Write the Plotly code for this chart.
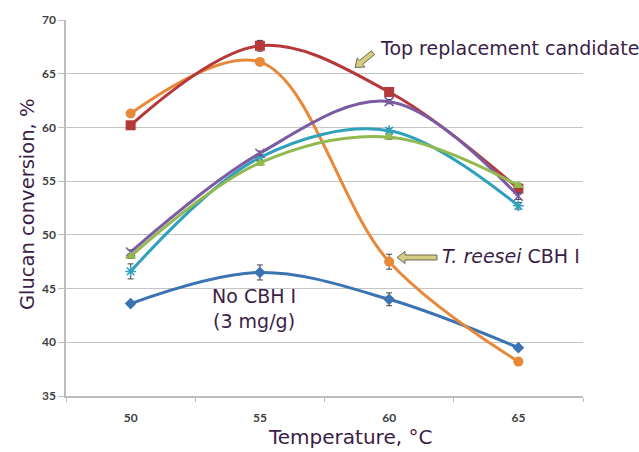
import plotly.graph_objects as go

# Glucan conversion (%) at each hydrolysis temperature
temps = ["50", "55", "60", "65"]
top_candidate = [60.2, 67.6, 63.3, 54.3]
t_reesei = [61.3, 66.1, 47.5, 38.2]
variant_purple = [48.4, 57.6, 62.4, 53.6]
variant_green = [48.0, 56.7, 59.1, 54.6]
variant_cyan = [46.6, 57.2, 59.7, 52.7]
no_cbh = [43.6, 46.5, 44.0, 39.5]

# standard deviations
err_top = [0.2, 0.5, 0.2, 0.2]
err_reesei = [0.2, 0.2, 0.7, 0.2]
err_purple = [0.2, 0.2, 0.2, 0.3]
err_green = [0.2, 0.2, 0.2, 0.2]
err_cyan = [0.7, 0.2, 0.2, 0.3]
err_none = [0.2, 0.7, 0.6, 0.2]

TEXT = "#3b1e47"
ERR = "#404040"

# plot-area geometry in pixels (used to place callouts)
W, H = 639, 452
L, R, T, B = 66, 56, 16, 56
PW, PH = W - L - R, H - T - B


def px(x, y):
    return (x - L) / PW, (H - B - y) / PH


def block_arrow(tail, tip, shaft=5.0, head_w=12.0, head_len=8.0):
    tx, ty = tail
    hx, hy = tip
    dx, dy = hx - tx, hy - ty
    d = (dx * dx + dy * dy) ** 0.5
    ux, uy = dx / d, dy / d
    nx, ny = -uy, ux
    neck = (hx - ux * head_len, hy - uy * head_len)
    pts = [
        (tx + nx * shaft / 2, ty + ny * shaft / 2),
        (neck[0] + nx * shaft / 2, neck[1] + ny * shaft / 2),
        (neck[0] + nx * head_w / 2, neck[1] + ny * head_w / 2),
        (hx, hy),
        (neck[0] - nx * head_w / 2, neck[1] - ny * head_w / 2),
        (neck[0] - nx * shaft / 2, neck[1] - ny * shaft / 2),
        (tx - nx * shaft / 2, ty - ny * shaft / 2),
    ]
    path = "M " + " L ".join("%.5f,%.5f" % px(*p) for p in pts) + " Z"
    return dict(type="path", xref="paper", yref="paper", path=path,
                fillcolor="#d4cb84", line=dict(color="#6e6a52", width=1))


series = [
    ("No CBH I", no_cbh, err_none, "#3b73b3", dict(symbol="diamond", size=9)),
    ("T. reesei CBH I", t_reesei, err_reesei, "#e8893a", dict(symbol="circle", size=10)),
    ("Top candidate", top_candidate, err_top, "#b5393a", dict(symbol="square", size=10)),
    ("Variant C", variant_cyan, err_cyan, "#2fa1bd",
     dict(symbol="asterisk-open", size=9, line=dict(width=1.5, color="#2fa1bd"))),
    ("Variant A", variant_purple, err_purple, "#7b5ba3",
     dict(symbol="x-thin-open", size=9, line=dict(width=1.5, color="#7b5ba3"))),
    ("Variant B", variant_green, err_green, "#93b94f", dict(symbol="triangle-up", size=10)),
]

fig = go.Figure()
for name, vals, err, color, marker in series:
    fig.add_trace(go.Scatter(
        x=temps, y=vals, name=name, mode="lines+markers",
        line=dict(color=color, width=3, shape="spline", smoothing=1.0),
        marker=dict(color=color, **marker),
        error_y=dict(type="data", array=err, visible=True, color=ERR,
                     thickness=1, width=3),
    ))

FONT = "DejaVu Sans"
annotations = []
tx, ty = px(378, 44)
annotations.append(dict(xref="paper", yref="paper", x=tx, y=ty, xanchor="left", yanchor="middle",
                        text="Top replacement candidate", showarrow=False,
                        font=dict(family=FONT, size=19, color=TEXT)))
tx, ty = px(440, 255)
annotations.append(dict(xref="paper", yref="paper", x=tx, y=ty, xanchor="left", yanchor="middle",
                        text="<i>T. reesei</i> CBH I", showarrow=False,
                        font=dict(family=FONT, size=19, color=TEXT)))
tx, ty = px(254, 308)
annotations.append(dict(xref="paper", yref="paper", x=tx, y=ty, xanchor="center", yanchor="middle",
                        text="No CBH I<br>(3 mg/g)", showarrow=False, align="center",
                        font=dict(family=FONT, size=19, color=TEXT)))
tx, ty = px(350, 437)
annotations.append(dict(xref="paper", yref="paper", x=tx, y=ty, xanchor="center", yanchor="middle",
                        text="Temperature, °C", showarrow=False,
                        font=dict(family=FONT, size=20, color=TEXT)))
tx, ty = px(27, 203)
annotations.append(dict(xref="paper", yref="paper", x=tx, y=ty, xanchor="center", yanchor="middle",
                        text="Glucan conversion, %", showarrow=False, textangle=-90,
                        font=dict(family=FONT, size=19.5, color=TEXT)))

fig.update_layout(
    width=W, height=H,
    margin=dict(l=L, r=R, t=T, b=B),
    paper_bgcolor="white", plot_bgcolor="white",
    showlegend=False,
    annotations=annotations,
    shapes=[block_arrow((373, 49), (355, 64)), block_arrow((437, 256), (397, 256))],
)
fig.update_xaxes(
    type="category", range=[-0.5, 3.5], tickson="boundaries",
    showline=True, linecolor="#bdbdbd", linewidth=1.5,
    ticks="outside", ticklen=4, tickcolor="#bdbdbd",
    showgrid=False, zeroline=False, ticklabelstandoff=10,
    tickfont=dict(family="Lato", size=12, color="#404040", weight="bold"),
)
fig.update_yaxes(
    range=[35, 70], dtick=5, tick0=35,
    showline=True, linecolor="#bdbdbd", linewidth=1.5,
    ticks="outside", ticklen=6, tickcolor="#bdbdbd",
    showgrid=True, gridcolor="#c4c4c4", gridwidth=1.3, zeroline=False,
    tickfont=dict(family="Lato", size=12, color="#404040", weight="bold"),
)

fig.write_html("out.html")
